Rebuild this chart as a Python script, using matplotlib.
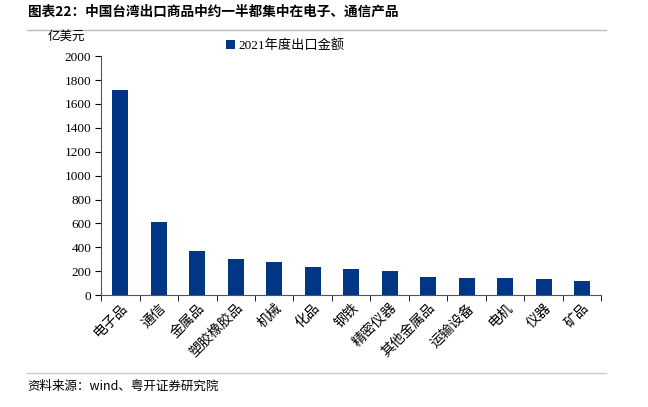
import numpy as np
import matplotlib.pyplot as plt
import matplotlib.lines as mlines

plt.rcParams['font.family'] = ['Liberation Serif', 'Noto Sans CJK SC']

categories = ['电子品', '通信', '金属品', '塑胶橡胶品', '机械', '化品', '钢铁',
              '精密仪器', '其他金属品', '运输设备', '电机', '仪器', '矿品']
values = [1720, 615, 368, 298, 278, 233, 220, 200, 150, 145, 143, 138, 120]
series_name = '2021年度出口金额'
bar_color = '#003686'

fig = plt.figure(figsize=(6.48, 4.07), dpi=100)
ax = fig.add_axes([0.156, 0.275, 0.772, 0.587])

x = np.arange(len(categories))
ax.bar(x, values, width=0.42, color=bar_color, label=series_name)

ax.set_xlim(-0.5, len(categories) - 0.5)
ax.set_ylim(0, 2000)
ax.set_yticks(range(0, 2001, 200))
ax.tick_params(axis='y', direction='out', length=4, labelsize=9.5, pad=3)

ax.set_xticks(x)
ax.set_xticklabels(categories, rotation=45, ha='right', rotation_mode='anchor',
                   family=['Noto Sans CJK SC'], fontsize=10)
ax.tick_params(axis='x', length=0, pad=4)
ax.set_xticks(np.arange(-0.5, len(categories)), minor=True)
ax.tick_params(axis='x', which='minor', direction='out', length=4)

for s in ['top', 'right']:
    ax.spines[s].set_visible(False)
ax.spines['left'].set_color('#555555')
ax.spines['bottom'].set_color('#555555')

ax.legend(loc='upper left', bbox_to_anchor=(0.225, 1.12), frameon=False,
          handlelength=0.7, handleheight=0.7, handletextpad=0.3,
          prop={'family': ['Liberation Serif', 'Noto Sans CJK SC'], 'size': 9.5})

fig.text(0.074, 0.912, '亿美元', family=['Noto Sans CJK SC'], fontsize=9,
         va='center')

fig.text(0.043, 0.972, '图表22：中国台湾出口商品中约一半都集中在电子、通信产品',
         family=['Noto Sans CJK SC'], fontsize=9.8, fontweight='bold', va='center')
fig.add_artist(mlines.Line2D([0.042, 0.935], [0.927, 0.927], color='#bbbbbb', lw=1))
fig.add_artist(mlines.Line2D([0.042, 0.935], [0.083, 0.083], color='#cccccc', lw=1))
fig.text(0.043, 0.05, '资料来源：wind、粤开证券研究院', family=['Noto Sans CJK SC'],
         fontsize=9, style='italic', va='center')

fig.savefig('out.png', dpi=100)
